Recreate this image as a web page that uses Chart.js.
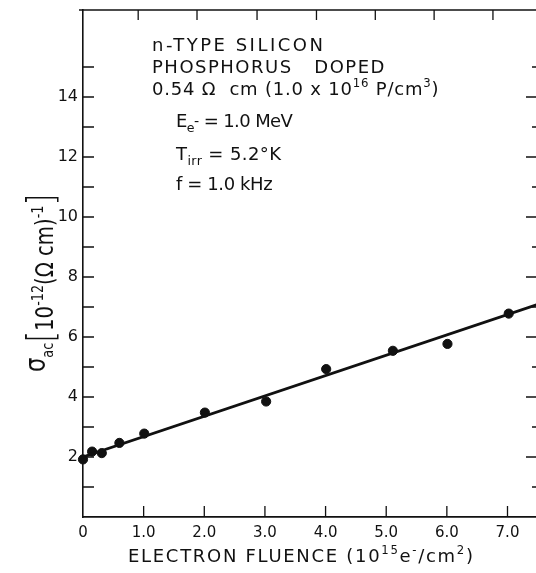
<!DOCTYPE html>
<html><head><meta charset="utf-8">
<script src="https://cdn.jsdelivr.net/npm/chart.js@4.4.0/dist/chart.umd.min.js"></script>
<style>html,body{margin:0;padding:0;background:#fff;overflow:hidden}</style>
</head><body>
<canvas id="c" width="536" height="573"></canvas>
<script>
// ---- data ----
const fluence = [0, 0.15, 0.31, 0.6, 1.01, 2.01, 3.02, 4.01, 5.11, 6.01, 7.02];
const sigma   = [1.92, 2.18, 2.13, 2.47, 2.78, 3.48, 3.85, 4.93, 5.54, 5.77, 6.78];
const fitFluence = [0, 7.5];
const fitSigma   = [2.0, 7.09];
const xTickVals   = [0, 1, 2, 3, 4, 5, 6, 7];
const xTickLabels = ['0', '1.0', '2.0', '3.0', '4.0', '5.0', '6.0', '7.0'];
const yTickVals   = [2, 4, 6, 8, 10, 12, 14];
const yTickLabels = ['2', '4', '6', '8', '10', '12', '14'];
const yMinorVals  = [1, 2, 3, 4, 5, 6, 7, 8, 9, 10, 11, 12, 13, 14, 15];
const bottomMinorVals = [1, 2, 3, 4, 5, 6, 7];
const topTickVals = [0.91, 1.88, 2.87, 3.85, 4.82, 5.79, 6.76];
const xRange = [0, 7.47];
const yRange = [0, 16.9];

const FONT = '"DejaVu Sans", "Liberation Sans", sans-serif';
const WEIGHT = 400;
const INK = '#111';

function drawRich(ctx, x, y, segs, size, spacing) {
  let cx = x;
  for (const s of segs) {
    const sc = s.scale || (s.sup ? 0.65 : s.sub ? 0.7 : 1);
    const dy = s.dy != null ? s.dy : (s.sup ? -0.42 : s.sub ? 0.3 : 0);
    ctx.font = `${s.w || WEIGHT} ${size * sc}px ${FONT}`;
    ctx.letterSpacing = ((s.ls != null ? s.ls : spacing) || 0) + 'px';
    ctx.fillText(s.t, cx, y + dy * size);
    cx += ctx.measureText(s.t).width;
  }
  ctx.letterSpacing = '0px';
  return cx - x;
}

const annotations = {
  id: 'annotations',
  afterDraw(chart) {
    const ctx = chart.ctx;
    const xs = chart.scales.x, ys = chart.scales.y;
    const a = chart.chartArea;
    ctx.save();
    ctx.strokeStyle = INK;
    ctx.fillStyle = INK;
    ctx.lineWidth = 1.5;
    ctx.beginPath();
    ctx.moveTo(a.left - 4, a.top);
    ctx.lineTo(a.right, a.top);
    ctx.stroke();
    ctx.lineWidth = 1.3;
    ctx.beginPath();
    for (const v of topTickVals) {
      const px = xs.getPixelForValue(v);
      ctx.moveTo(px, a.top); ctx.lineTo(px, a.top + 10);
    }
    for (const v of bottomMinorVals) {
      const px = xs.getPixelForValue(v);
      ctx.moveTo(px, a.bottom); ctx.lineTo(px, a.bottom - 11);
    }
    for (const v of yMinorVals) {
      const py = ys.getPixelForValue(v);
      ctx.moveTo(a.left, py); ctx.lineTo(a.left + 11, py);
    }
    for (const v of yMinorVals) {
      const py = ys.getPixelForValue(v);
      const len = v % 2 === 0 ? 10 : 4;
      ctx.moveTo(a.right, py); ctx.lineTo(a.right - len, py);
    }
    ctx.stroke();

    ctx.textAlign = 'left';
    ctx.textBaseline = 'alphabetic';
    const fs = 18;
    drawRich(ctx, 152, 51, [{t: 'n-TYPE SILICON'}], fs, 2.5);
    drawRich(ctx, 152, 73, [{t: 'PHOSPHORUS'}, {t: '   DOPED'}], fs, 1.5);
    drawRich(ctx, 152, 95, [{t: '0.54 Ω  cm (1.0 x 10'}, {t: '16', sup: true}, {t: ' P/cm'}, {t: '3', sup: true}, {t: ')'}], fs, 0.8);
    drawRich(ctx, 176, 127, [{t: 'E'}, {t: 'e', sub: true}, {t: '-', scale: 0.8, dy: -0.05}, {t: ' = 1.0 MeV'}], fs, -0.6);
    drawRich(ctx, 176, 160, [{t: 'T'}, {t: 'irr', sub: true}, {t: ' = 5.2°K'}], fs, 0.4);
    drawRich(ctx, 176, 190, [{t: 'f = 1.0 kHz'}], fs, -0.4);

    drawRich(ctx, 128, 562, [{t: 'ELECTRON FLUENCE (10'}, {t: '15', sup: true}, {t: 'e'}, {t: '-', sup: true}, {t: '/cm'}, {t: '2', sup: true}, {t: ')'}], 18, 1.7);

    ctx.translate(53, 372);
    ctx.rotate(-Math.PI / 2);
    ctx.scale(0.82, 1);
    drawRich(ctx, 0, 0, [
      {t: 'σ', scale: 1.15, dy: -0.33}, {t: 'ac', scale: 0.65, dy: 0},
      {t: '[', scale: 1.55, dy: 0.02, w: 200},
      {t: '10'}, {t: '-12', sup: true},
      {t: '(Ω cm)'}, {t: '-1', sup: true},
      {t: ']', scale: 1.55, dy: 0.02, w: 200}
    ], 24, 0);
    ctx.restore();
  }
};

new Chart(document.getElementById('c'), {
  data: {
    datasets: [
      {
        type: 'line',
        data: fitFluence.map((x, i) => ({x, y: fitSigma[i]})),
        borderColor: INK, borderWidth: 2.8, pointRadius: 0, fill: false, tension: 0
      },
      {
        type: 'scatter',
        data: fluence.map((x, i) => ({x, y: sigma[i]})),
        backgroundColor: INK, borderColor: INK, pointRadius: 4.6, pointHoverRadius: 4.6,
        clip: false
      }
    ]
  },
  options: {
    responsive: false,
    animation: false,
    devicePixelRatio: 1,
    layout: {autoPadding: false, padding: {top: 10, right: 0, left: 0, bottom: 0}},
    plugins: {legend: {display: false}, tooltip: {enabled: false}},
    scales: {
      x: {
        type: 'linear', position: 'bottom', min: xRange[0], max: xRange[1],
        afterBuildTicks: s => { s.ticks = xTickVals.map(v => ({value: v})); },
        afterFit: s => { s.height = 56; s.paddingLeft = 0; s.paddingRight = 0; },
        ticks: {
          callback: (v) => xTickLabels[xTickVals.indexOf(v)],
          font: {family: FONT, size: 15, weight: WEIGHT}, color: INK, padding: 7, maxRotation: 0, autoSkip: false
        },
        grid: {display: false, drawTicks: false},
        border: {display: true, color: INK, width: 1.8}
      },
      y: {
        type: 'linear', position: 'left', min: yRange[0], max: yRange[1],
        afterBuildTicks: s => { s.ticks = yTickVals.map(v => ({value: v})); },
        afterFit: s => { s.width = 83; s.paddingTop = 0; s.paddingBottom = 0; },
        ticks: {
          callback: (v) => yTickLabels[yTickVals.indexOf(v)],
          font: {family: FONT, size: 16, weight: WEIGHT}, color: INK, padding: 5, autoSkip: false
        },
        grid: {display: false, drawTicks: false},
        border: {display: true, color: INK, width: 1.6}
      }
    }
  },
  plugins: [annotations]
});
</script>
</body></html>
